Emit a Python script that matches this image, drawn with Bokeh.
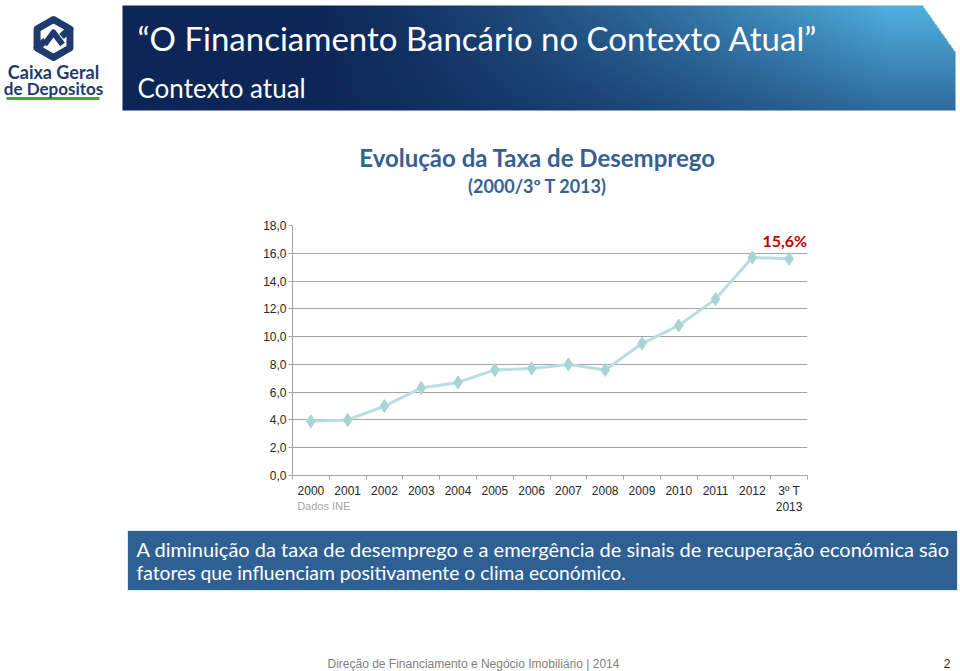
import numpy as np
from bokeh.plotting import figure
from bokeh.models import Range1d, FixedTicker, Label, LinearAxis
from bokeh.embed import file_html
from bokeh.resources import INLINE

# ---------------- data ----------------
categories = ["2000", "2001", "2002", "2003", "2004", "2005", "2006", "2007",
              "2008", "2009", "2010", "2011", "2012", "3º T\n2013"]
unemployment = [3.9, 4.0, 5.0, 6.3, 6.7, 7.6, 7.7, 8.0, 7.6, 9.5, 10.8, 12.7, 15.7, 15.6]
y_ticks = [0, 2, 4, 6, 8, 10, 12, 14, 16, 18]
y_tick_labels = ["0,0", "2,0", "4,0", "6,0", "8,0", "10,0", "12,0", "14,0", "16,0", "18,0"]
highlight_text = "15,6%"

header_title = "\u201cO Financiamento Bancário no Contexto Atual\u201d"
header_sub = "Contexto atual"
chart_title = "Evolução da Taxa de Desemprego"
chart_sub = "(2000/3º T 2013)"
source_note = "Dados INE"
source_pos = 0.35  # category units, centre of the note
box_lines = ["A diminuição da taxa de desemprego e a emergência de sinais de recuperação económica são",
             "fatores que influenciam positivamente o clima económico."]
footer_text = "Direção de Financiamento e Negócio Imobiliário |  2014"
page_no = "2"

W = 960
CALIBRI = "Lato"
ARIAL = "Liberation Sans"
GRID = "#A6A6A6"


def blank(height):
    f = figure(width=W, height=height, x_range=Range1d(0, W), y_range=Range1d(0, height),
               output_backend="svg", toolbar_location=None, min_border=0,
               x_axis_location=None, y_axis_location=None, outline_line_color=None)
    f.grid.visible = False
    return f


# ---------------- header ----------------
HA = 215
pa = blank(HA)


def YA(y):
    return HA - y


# gradient band
bx0, bx1, by0, by1 = 122, 955, 5, 110
bw, bh = bx1 - bx0, by1 - by0
ii, jj = np.meshgrid(np.arange(bw), np.arange(bh))
u = ii / bw
v = jj / bh  # 0 = top
t = np.clip((u - 0.22) / 0.7, 0, 1) ** 1.3
f = t * (0.5 + 0.5 * (1 - v))
dark = np.array([13, 38, 88])
light = np.array([80, 176, 224])
rgb = dark[None, None, :] + (light - dark)[None, None, :] * f[..., None]
sx = bx0 + ii
sy = by0 + jj
xr = 922 + (955 - 922) * np.clip((sy - 5) / 47.0, 0, 1)
alpha = np.where(sx <= xr, 255, 0)
img = np.empty((bh, bw), dtype=np.uint32)
view = img.view(dtype=np.uint8).reshape((bh, bw, 4))
view[..., 0] = rgb[..., 0].astype(np.uint8)
view[..., 1] = rgb[..., 1].astype(np.uint8)
view[..., 2] = rgb[..., 2].astype(np.uint8)
view[..., 3] = alpha.astype(np.uint8)
img = np.flipud(img).copy()
pa.image_rgba(image=[img], x=bx0, y=YA(by1), dw=bw, dh=bh)

# logo symbol (approximation)
logo_col = "#1E3A6E"
cx, cy, R = 53, 38, 19
hexa = [(cx + R * np.cos(np.radians(a)), cy - R * np.sin(np.radians(a)))
        for a in (210, 150, 90, 30, -30, -90, -150)]
pa.line([p[0] for p in hexa[:4]] + [cx + 8], [YA(p[1]) for p in hexa[:4]] + [YA(cy - 2)],
        line_color=logo_col, line_width=7, line_join="round")
pa.line([p[0] for p in hexa[3:]] + [cx - 8], [YA(p[1]) for p in hexa[3:]] + [YA(cy + 2)],
        line_color=logo_col, line_width=7, line_join="round")
pa.line([cx - 9, cx, cx + 9], [YA(cy + 6), YA(cy - 6), YA(cy + 6)], line_color=logo_col,
        line_width=6, line_join="round")
pa.add_layout(Label(x=53, y=YA(71), text="Caixa Geral", text_font=CALIBRI, text_font_style="bold",
                    text_font_size="18px", text_color=logo_col, text_align="center",
                    text_baseline="middle"))
pa.add_layout(Label(x=53, y=YA(88), text="de Depositos", text_font=CALIBRI, text_font_style="bold",
                    text_font_size="17px", text_color=logo_col, text_align="center",
                    text_baseline="middle"))
pa.line([6, 99], [YA(98), YA(98)], line_color="#3BAA3C", line_width=3)

pa.add_layout(Label(x=137, y=YA(37), text=header_title, text_font=CALIBRI, text_font_size="33px",
                    text_color="white", text_baseline="middle"))
pa.add_layout(Label(x=137, y=YA(87), text=header_sub, text_font=CALIBRI, text_font_size="26px",
                    text_color="white", text_baseline="middle"))

pa.add_layout(Label(x=537, y=YA(157), text=chart_title, text_font=CALIBRI, text_font_style="bold",
                    text_font_size="24px", text_color="#376092", text_align="center",
                    text_baseline="middle"))
pa.add_layout(Label(x=537, y=YA(185), text=chart_sub, text_font=CALIBRI, text_font_style="bold",
                    text_font_size="18px", text_color="#376092", text_align="center",
                    text_baseline="middle"))

# ---------------- chart ----------------
HB = 310
xs = list(range(len(categories)))
pb = figure(width=W, height=HB, x_range=Range1d(-0.5, len(categories) - 0.5), y_range=Range1d(0, 18),
            output_backend="svg", toolbar_location=None,
            min_border_left=292, min_border_right=153, min_border_top=10, min_border_bottom=50,
            outline_line_color=None)
pb.xgrid.visible = False
pb.ygrid.ticker = FixedTicker(ticks=y_ticks)
pb.ygrid.grid_line_color = GRID
pb.ygrid.grid_line_width = 1

pb.yaxis.ticker = FixedTicker(ticks=y_ticks)
pb.yaxis.major_label_overrides = dict(zip(y_ticks, y_tick_labels))
pb.yaxis.axis_line_color = GRID
pb.yaxis.major_tick_line_color = GRID
pb.yaxis.major_tick_out = 4
pb.yaxis.major_tick_in = 0
pb.yaxis.minor_tick_line_color = None
pb.yaxis.major_label_standoff = 2
pb.yaxis.major_label_text_font = ARIAL
pb.yaxis.major_label_text_font_size = "12px"
pb.yaxis.major_label_text_color = "#262626"

xa = pb.xaxis[0]
xa.ticker = FixedTicker(ticks=xs, minor_ticks=[i - 0.5 for i in range(len(categories) + 1)])
xa.major_label_overrides = dict(zip(xs, categories))
xa.axis_line_color = GRID
xa.major_tick_line_color = None
xa.major_tick_out = 0
xa.major_tick_in = 0
xa.minor_tick_line_color = GRID
xa.minor_tick_out = 4
xa.minor_tick_in = 0
xa.major_label_standoff = 4
xa.major_label_text_font = ARIAL
xa.major_label_text_font_size = "12px"
xa.major_label_text_color = "#262626"

# source note as a second, line-less axis below the category axis
note_axis = LinearAxis(ticker=FixedTicker(ticks=[source_pos]),
                       major_label_overrides={source_pos: source_note})
note_axis.axis_line_color = None
note_axis.major_tick_line_color = None
note_axis.minor_tick_line_color = None
note_axis.major_tick_out = 0
note_axis.major_tick_in = 0
note_axis.major_label_standoff = -18
note_axis.major_label_text_font = ARIAL
note_axis.major_label_text_font_size = "11px"
note_axis.major_label_text_color = "#A6A6A6"
pb.add_layout(note_axis, "below")

pb.line(xs, unemployment, line_color="#B8DEE0", line_width=3)
pb.scatter(xs, unemployment, marker="diamond", size=13, fill_color="#A8D4D6", line_color="#A8D4D6")

pb.add_layout(Label(x=len(categories) - 0.51, y=16.9, text=highlight_text, text_font=CALIBRI,
                    text_font_style="bold", text_font_size="16px", text_color="#C00000",
                    text_align="right", text_baseline="middle"))

# ---------------- bottom ----------------
HC = 671 - 215 - HB
pc = blank(HC)


def YC(y):
    return HC - (y - 525)


pc.quad(left=[127], right=[957], top=[YC(530)], bottom=[YC(590)], fill_color="#2F6094",
        line_color="#DDEFF6", line_width=1)
pc.add_layout(Label(x=136, y=YC(548), text=box_lines[0], text_font=CALIBRI, text_font_size="20px",
                    text_color="white", text_baseline="middle"))
pc.add_layout(Label(x=136, y=YC(572), text=box_lines[1], text_font=CALIBRI, text_font_size="19.3px",
                    text_color="white", text_baseline="middle"))
pc.add_layout(Label(x=327, y=YC(663), text=footer_text, text_font=ARIAL, text_font_size="12px",
                    text_color="#808080", text_baseline="middle"))
pc.add_layout(Label(x=950, y=YC(663), text=page_no, text_font=ARIAL, text_font_size="12px",
                    text_color="#262626", text_align="right", text_baseline="middle"))

open("out.html", "w").write(file_html([pa, pb, pc], INLINE))
